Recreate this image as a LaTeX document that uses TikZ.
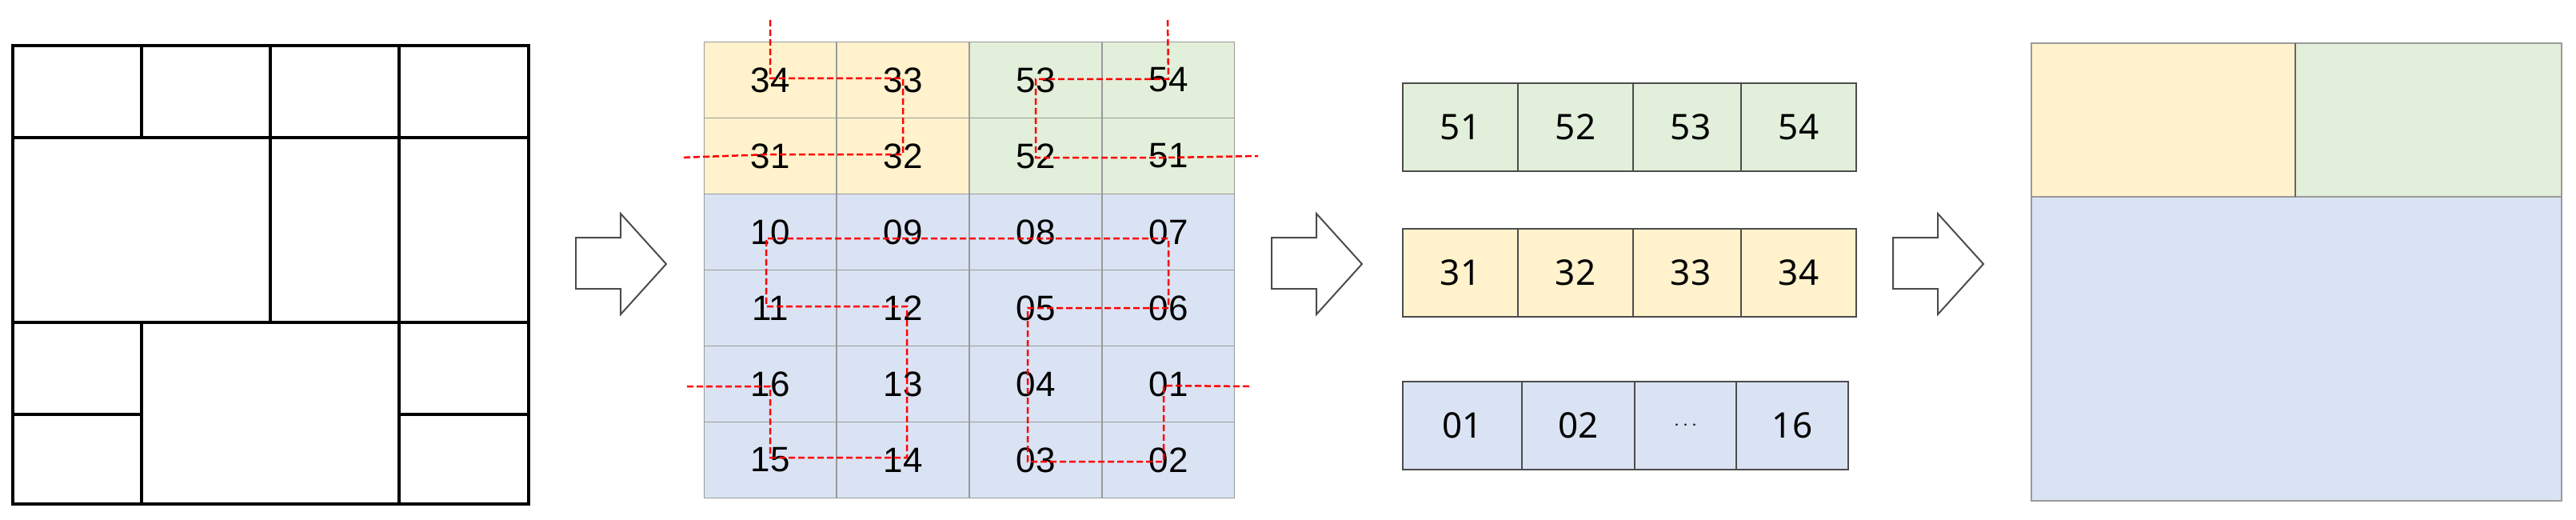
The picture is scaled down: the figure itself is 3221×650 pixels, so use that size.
\documentclass[tikz,border=0pt]{standalone}
\usepackage{fontspec}
\setmainfont{Liberation Sans}
\newfontfamily\stripfont{Noto Sans}
\definecolor{cy}{HTML}{FFF2CC}
\definecolor{cg}{HTML}{E2EFDA}
\definecolor{cb}{HTML}{DAE3F3}
\definecolor{gl}{HTML}{9A9A9A}
\begin{document}
\begin{tikzpicture}[x=1pt,y=-1pt,
  plan/.style={line width=4pt,black},
  bigarrow/.style={draw=black!70,line width=2pt,fill=white},
  gcell/.style={draw=gl,line width=1.5pt,minimum width=165pt,minimum height=95pt,inner sep=0pt,font=\fontsize{44}{48}\selectfont},
  scell/.style={draw=black!70,line width=2pt,minimum width=144pt,minimum height=110pt,inner sep=0pt,font=\stripfont\fontsize{44}{48}\selectfont},
  route/.style={red,dashed,line width=2.5pt,dash pattern=on 8pt off 4pt}]
\useasboundingbox (0,0) rectangle (3221,650);
% plan
\draw[plan] (16,57) rectangle (661,630);
\draw[plan] (16,172) -- (661,172) (16,403) -- (661,403);
\draw[plan] (177,57) -- (177,172) (338,57) -- (338,403) (499,57) -- (499,630);
\draw[plan] (177,403) -- (177,630) (16,518) -- (177,518) (499,518) -- (661,518);
% arrows
\foreach \ax in {720,1590,2367}{
  \draw[bigarrow] (\ax,297) -- (\ax+56,297) -- (\ax+56,267) -- (\ax+113,330) -- (\ax+56,393) -- (\ax+56,361) -- (\ax,361) -- cycle;}
% grid
\foreach \lab/\c/\r/\col in {34/0/0/cy,33/1/0/cy,53/2/0/cg,54/3/0/cg,31/0/1/cy,32/1/1/cy,52/2/1/cg,51/3/1/cg,
 10/0/2/cb,09/1/2/cb,08/2/2/cb,07/3/2/cb,11/0/3/cb,12/1/3/cb,05/2/3/cb,06/3/3/cb,
 16/0/4/cb,13/1/4/cb,04/2/4/cb,01/3/4/cb,15/0/5/cb,14/1/5/cb,03/2/5/cb,02/3/5/cb}{
  \node[gcell,fill=\col] (g\lab) at (963+166*\c,100+95*\r) {\lab};}
\coordinate (t34) at (963,25);
\coordinate (t54) at (1460,25);
\coordinate (e31) at (851,197);
\coordinate (e51) at (1573,195);
\coordinate (e01) at (1562,483);
\coordinate (e16) at (857,483);
\draw[route] (t34) -- ([yshift=2pt]g34.center) -- ([yshift=2pt]g33.center) -- ([yshift=2pt]g32.center) -- ([yshift=2pt]g31.center) -- (e31);
\draw[route] (t54) -- ([yshift=1pt]g54.center) -- ([yshift=1pt]g53.center) -- ([yshift=-2pt]g52.center) -- ([yshift=-2pt]g51.center) -- (e51);
\draw[route] (e01) -- ([xshift=-6pt,yshift=-2pt]g01.center) -- ([xshift=-6pt,yshift=-2pt]g02.center) -- ([xshift=-10pt,yshift=-2pt]g03.center) -- ([xshift=-10pt]g04.center) -- ([xshift=-10pt,yshift=0pt]g05.center) -- ([yshift=0pt]g06.center) -- ([yshift=-8pt]g07.center) -- ([yshift=-8pt]g08.center) -- ([yshift=-8pt]g09.center) -- ([xshift=-5pt,yshift=-8pt]g10.center) -- ([xshift=-5pt,yshift=2pt]g11.center) -- ([xshift=5pt,yshift=2pt]g12.center) -- ([xshift=5pt,yshift=0pt]g13.center) -- ([xshift=5pt,yshift=3pt]g14.center) -- ([yshift=3pt]g15.center) -- ([yshift=-3pt]g16.center) -- (e16);
% strips
\foreach \lab/\x in {51/1826,52/1970,53/2114,54/2249}{\node[scell,fill=cg,minimum width=144pt] (sa\lab) at (\x,159) {\lab};}
\foreach \lab/\x in {31/1826,32/1970,33/2114,34/2249}{\node[scell,fill=cy] (sb\lab) at (\x,341) {\lab};}
\node[scell,fill=cb,minimum width=149pt] (sc1) at (1828.5,532) {01};
\node[scell,fill=cb,minimum width=141pt] (sc2) at (1973.5,532) {02};
\node[scell,fill=cb,minimum width=127pt] (sc3) at (2107.5,532) {$\cdots$};
\node[scell,fill=cb,minimum width=140pt] (sc4) at (2241,532) {16};
% final
\fill[cb] (2540,246) rectangle (3203,626);
\fill[cy] (2540,54) rectangle (2870,246);
\fill[cg] (2870,54) rectangle (3203,246);
\draw[gl,line width=2pt] (2540,54) rectangle (3203,626) (2540,246) -- (3203,246);
\draw[black!60,line width=2pt] (2870,54) -- (2870,246);
\end{tikzpicture}
\end{document}
